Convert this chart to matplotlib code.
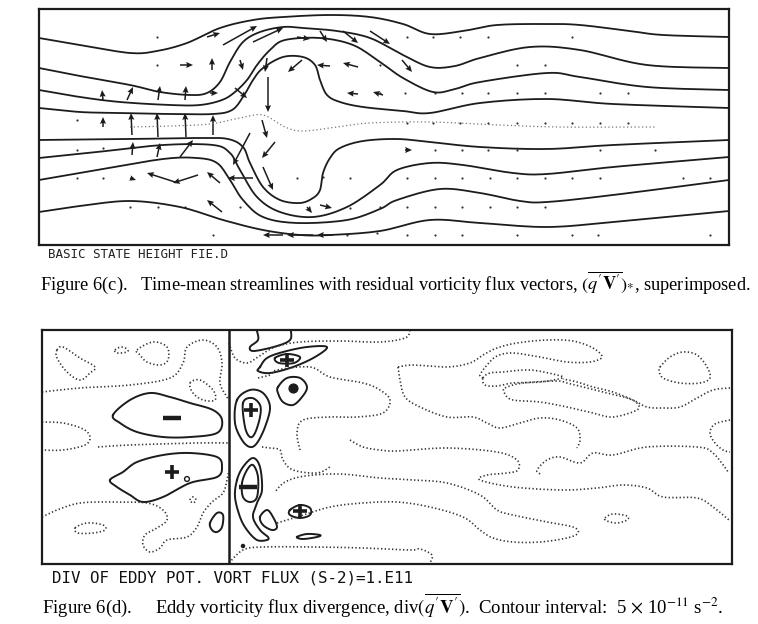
import numpy as np
import matplotlib
matplotlib.use("Agg")
import matplotlib.pyplot as plt

plt.rcParams['mathtext.fontset'] = 'stix'

# ---- panel (c): streamlines, in grid units (x right, y down)
stream_1 = [(39,38),(80,45),(130,53),(157,51),(187,43),(220,28),(253,20),(283,17),(330,15),(370,17),
            (403,24),(430,34),(463,31),(497,25),(547,24),(580,25),(630,31),(663,35),(729,37)]
stream_2 = [(39,68),(80,76),(130,85),(160,92),(190,95),(207,93),(220,82),(230,62),(243,42),(260,32),
            (283,27),(303,28),(337,31),(370,38),(403,55),(430,67),(455,66),(480,58),(530,47),(580,50),
            (647,65),(729,68)]
stream_3 = [(39,90),(80,97),(120,102),(170,105),(200,105),(222,100),(235,92),(247,80),(257,65),(270,50),
            (285,40),(320,38),(353,45),(380,62),(403,78),(433,92),(455,89),(480,82),(547,73),(580,77),
            (647,87),(729,90)]
stream_4 = [(39,108),(80,112),(120,113),(170,114),(213,114),(232,110),(243,97),(253,80),(263,68),(283,57),
            (303,57),(315,65),(320,80),(327,95),(340,102),(363,107),(403,111),(430,113),(480,103),
            (547,99),(613,104),(729,108)]
stream_5 = [(39,140),(130,139),(200,138),(228,139),(243,147),(250,163),(263,187),(280,200),(300,203),
            (313,198),(320,190),(323,173),(330,158),(340,148),(363,141),(397,139),(430,142),(480,147),
            (547,149),(613,145),(729,140)]
stream_6 = [(39,158),(97,152),(163,145),(213,145),(230,153),(240,170),(257,197),(280,212),(313,217),
            (347,207),(380,185),(397,170),(430,163),(463,165),(513,173),(547,174),(613,167),(729,157)]
stream_7 = [(39,180),(97,170),(163,159),(197,158),(217,163),(230,180),(243,200),(263,217),(297,223),
            (347,220),(380,209),(397,200),(440,189),(480,193),(520,201),(547,202),(613,195),(729,180)]
stream_8 = [(39,212),(80,206),(130,201),(180,207),(223,220),(263,230),(300,235),(330,235),(380,231),
            (430,220),(480,223),(547,227),(613,222),(729,211)]
stream_zero = [(130,127),(170,126),(210,124),(240,118),(263,115),(285,127),(303,131),(337,127),
               (370,123),(430,122),(500,125),(560,127),(655,127)]

# flux vectors: tail position and components
vec_x = [207,223,253,297,320,343,370,180,212,240,267,302,330,358,402,103,127,158,185,210,235,268,358,383,
         103,132,158,186,213,262,275,263,250,132,157,180,175,198,220,253,222,307,320,283,313,333,130,405]
vec_y = [37,45,42,37,31,31,31,65,70,60,58,60,66,67,60,100,100,100,100,93,88,77,94,95,
         127,135,137,137,135,120,142,167,133,155,157,157,182,175,183,178,212,207,205,235,235,235,178,150]
vec_u = [13,34,30,13,7,15,20,13,0,3,-2,-14,-13,-15,10,-1,6,2,1,8,12,0,-11,-10,
         0,-1,-1,-1,0,5,-13,10,-17,1,3,13,-28,-25,-13,-25,-15,5,12,-20,-26,-16,6,7]
vec_v = [-4,-19,-14,2,11,12,13,0,-12,10,14,12,-1,-4,12,-10,-13,-14,-14,0,10,35,-1,-3,
         -10,-22,-24,-24,-20,18,16,23,32,-13,-14,-17,-9,8,-11,0,-12,6,3,0,0,0,2,0]

# negligible vectors, shown as dots
dot_x = [157,407,433,460,488,572,157,380,517,545,380,405,435,462,488,517,545,600,628,
         77,407,433,460,488,517,545,572,600,628,77,103,435,462,488,517,600,655,
         77,103,297,323,350,407,435,462,490,517,545,572,600,683,710,
         130,158,185,240,350,380,407,435,462,490,517,545,213,347,377,407,435,462,517,572,598,710]
dot_y = [37,37,37,37,37,37,65,65,65,65,93,93,93,93,93,93,93,93,93,
         120,123,123,123,123,123,123,123,123,123,150,148,150,150,150,150,150,150,
         178,178,178,177,178,178,178,178,178,178,178,178,178,178,178,
         207,207,207,207,208,207,207,207,207,207,207,207,235,235,233,235,235,235,235,235,235,235]

# ---- panel (d): contours of flux divergence (solid: nonzero levels, dotted: zero line)
solid_closed = {
    'minus_west':   [(113,415),(130,400),(150,393),(170,397),(190,403),(213,410),(222,420),(217,433),
                     (190,437),(163,437),(137,432),(120,423)],
    'plus_ne_out':  [(260,367),(267,358),(283,352),(307,347),(327,347),(315,357),(293,367),(270,373),(258,371)],
    'plus_ne_in':   [(275,358),(287,354),(300,357),(294,363),(279,363)],
    'minus_ne':     [(278,387),(287,378),(300,378),(307,387),(302,397),(293,405),(283,402),(278,393)],
    'plus_mid_out': [(237,400),(250,390),(263,393),(270,407),(265,427),(257,443),(250,447),(242,440),(235,423)],
    'plus_mid_in':  [(243,403),(252,398),(260,405),(260,417),(255,433),(250,437),(245,427)],
    'plus_west':    [(110,480),(123,472),(137,462),(163,455),(190,453),(217,457),(222,467),(217,477),
                     (190,483),(163,497),(143,502),(130,495),(117,487)],
    'minus_lo_out': [(237,480),(243,467),(253,458),(260,467),(262,490),(257,503),(253,517),(260,530),
                     (268,537),(267,540),(257,540),(247,530),(240,517),(235,497)],
    'minus_lo_in':  [(242,483),(247,470),(253,465),(258,477),(257,497),(250,502),(243,497)],
    'small_a':      [(260,517),(267,510),(273,517),(277,527),(272,530),(263,525)],
    'small_b':      [(210,523),(217,513),(223,515),(222,527),(217,532),(212,530)],
    'plus_lo':      [(290,510),(300,505),(310,508),(310,515),(300,518),(290,515)],
    'elong':        [(297,537),(307,534),(320,535),(317,537),(303,539)],
}
solid_open = {
    'top_lobe': [(257,331),(258,340),(250,347),(254,351),(277,346),(290,340),(291,331)],
}
zero_closed = {
    'z1':  [(57,350),(63,347),(80,358),(95,367),(90,373),(80,380),(67,372),(57,358)],
    'z2':  [(115,350),(121,347),(127,349),(127,352),(117,353)],
    'z3':  [(137,350),(153,342),(167,347),(168,360),(160,365),(147,362),(140,355)],
    'z5':  [(190,383),(200,380),(213,390),(215,400),(203,400),(193,393)],
    'z10': [(75,528),(87,523),(103,525),(105,530),(93,533),(78,533)],
    'z11': [(190,500),(193,497),(196,500),(193,503)],
    'z16': [(483,378),(490,373),(503,372),(530,370),(557,375),(562,378),(540,382),(513,383),(497,386),(485,385)],
    'z17': [(505,388),(523,383),(557,381),(567,383),(587,388),(607,393),(627,398),(637,403),(637,410),
            (613,417),(593,413),(567,407),(540,402),(513,400),(505,394)],
    'z20': [(660,367),(670,357),(683,352),(697,355),(707,367),(710,378),(700,383),(680,383),(663,378),(659,370)],
    'z26': [(605,518),(613,514),(627,516),(627,520),(617,523),(607,521)],
}
zero_open = {
    'z4':  [(42,392),(80,388),(130,385),(170,378),(183,363),(187,347),(203,340),(217,347),(222,363),
            (220,383),(227,397),(229,400)],
    'z6':  [(42,422),(63,423),(83,429),(90,437),(85,445),(63,450),(42,450)],
    'z7':  [(98,447),(130,445),(197,443),(229,443)],
    'z9':  [(42,517),(57,510),(80,503),(113,502),(147,503),(163,510),(167,520),(157,528),(145,535),
            (143,545),(150,552),(160,548),(167,540),(187,537),(197,527),(203,513),(212,502),(223,493),
            (227,480),(229,470)],
    'z12': [(229,343),(235,358),(247,363),(258,357),(275,347),(300,342),(340,341),(380,342),(405,338),(410,331)],
    'z13': [(258,378),(270,375),(277,370),(310,367),(330,377),(363,383),(380,390),(390,400),(383,413),
            (357,417),(330,417),(303,420),(297,433),(300,450)],
    'z18': [(398,367),(413,365),(447,367),(470,363),(483,355),(497,348),(517,343),(547,340),(573,341),
            (593,348),(602,357),(590,362),(567,362),(540,357),(513,353),(497,356),(487,365),(480,375),(483,378)],
    'z21': [(730,388),(713,390),(697,398),(680,407),(663,408),(647,407),(633,400),(613,392),(593,387),
            (577,382),(563,379)],
    'z22': [(398,367),(400,380),(405,397),(420,407),(447,417),(473,417),(487,423),(500,428),(520,423),
            (540,418),(560,420),(577,428),(580,440),(577,448)],
    'z23': [(350,440),(363,447),(380,450),(397,451),(447,448),(497,452),(517,460),(518,470),(507,473),
            (487,475),(480,480),(513,487),(563,490),(597,488),(623,485),(647,488),(663,497),(697,498),
            (713,507),(729,520)],
    'z24': [(540,474),(537,470),(547,460),(560,457),(580,463),(593,453),(613,455),(647,447),(697,447),
            (713,453),(729,473)],
    'z25': [(277,523),(297,517),(330,507),(363,503),(397,502),(430,507),(463,517),(480,530),(493,538),
            (513,542),(540,542),(567,538),(578,533),(573,527),(547,522),(513,515),(497,510),(480,495),
            (447,483),(413,480),(380,478),(340,474),(305,476),(285,482),(275,492)],
    'z27': [(229,563),(243,550),(263,547),(313,547),(363,548),(410,550),(420,549),(432,555),(430,563)],
    'z30': [(262,447),(270,448),(280,450),(283,460),(293,470),(317,473),(330,467)],
    'z32': [(730,420),(715,424),(710,433),(715,443),(723,450),(730,452)],
}
# sign labels of the extrema
plus_x = [287,251,172,300]
plus_y = [360,410,472,511]
minus_x = [172,248]
minus_y = [418,487]


def smooth(pts, closed=False, n=10):
    # Catmull-Rom curve through the traced points
    p = np.asarray(pts, float)
    if closed:
        p = np.vstack([p[-1], p, p[0], p[1]])
    else:
        p = np.vstack([p[0], p, p[-1]])
    t = np.linspace(0, 1, n, endpoint=False)[:, None]
    out = []
    for i in range(1, len(p) - 2):
        p0, p1, p2, p3 = p[i-1], p[i], p[i+1], p[i+2]
        out.append(0.5 * (2*p1 + (p2 - p0)*t + (2*p0 - 5*p1 + 4*p2 - p3)*t**2
                          + (3*p1 - p0 - 3*p2 + p3)*t**3))
    out.append(p[-2][None])
    c = np.vstack(out)
    return c[:, 0], c[:, 1]


ink = '#1c1c1c'
fig = plt.figure(figsize=(7.58, 6.24), dpi=100)

# panel (c)
ax1 = fig.add_axes([39/758, 1-245/624, 690/758, 236/624])
ax1.set_xlim(39, 729)
ax1.set_ylim(245, 9)
for s in [stream_1, stream_2, stream_3, stream_4, stream_5, stream_6, stream_7, stream_8]:
    x, y = smooth(s)
    ax1.plot(x, y, color=ink, lw=1.3)
x, y = smooth(stream_zero)
ax1.plot(x, y, color='#777777', lw=0.9, ls=(0, (1, 2)))
ax1.quiver(vec_x, vec_y, vec_u, vec_v, angles='xy', scale_units='xy', scale=1,
           color=ink, width=0.0022, headwidth=4, headlength=4.5, headaxislength=4)
ax1.scatter(dot_x, dot_y, s=2.5, color='#333333', lw=0)

# panel (d)
ax2 = fig.add_axes([42/758, 1-564/624, 690/758, 234/624])
ax2.set_xlim(42, 732)
ax2.set_ylim(564, 330)
for c in solid_closed.values():
    x, y = smooth(c, closed=True)
    ax2.plot(x, y, color=ink, lw=1.4)
for c in solid_open.values():
    x, y = smooth(c)
    ax2.plot(x, y, color=ink, lw=1.4)
for c in zero_closed.values():
    x, y = smooth(c, closed=True)
    ax2.plot(x, y, color='#333333', lw=1.2, ls=(0, (0.8, 1.4)))
for c in zero_open.values():
    x, y = smooth(c)
    ax2.plot(x, y, color='#333333', lw=1.2, ls=(0, (0.8, 1.4)))
ax2.axvline(229, color=ink, lw=1.8)
ax2.scatter(plus_x, plus_y, marker='+', s=110, lw=2.6, color=ink, zorder=3)
ax2.scatter(minus_x, minus_y, marker='_', s=150, lw=3.2, color=ink, zorder=3)
ax2.scatter([187, 243], [479, 546], s=[12, 5], facecolor=['white', ink], edgecolor=ink, lw=1, zorder=3)
ax2.scatter([293], [388], s=40, color=ink, marker='o', zorder=3)

for ax in (ax1, ax2):
    ax.set_xticks([])
    ax.set_yticks([])
    for sp in ax.spines.values():
        sp.set_linewidth(1.6)
        sp.set_color(ink)

fig.text(48/758, 1-255/624, 'BASIC STATE HEIGHT FIE.D', family='DejaVu Sans Mono',
         fontsize=9, va='center', color='#222222')
fig.text(40/758, 1-283/624,
         r"Figure 6(c).   Time-mean streamlines with residual vorticity flux vectors, $(\overline{q^{\prime}\mathbf{V}^{\prime}})_{*}$, superimposed.",
         family='Liberation Serif', fontsize=13.2, va='center')
fig.text(52/758, 1-578/624, 'DIV OF EDDY POT. VORT FLUX (S-2)=1.E11', family='DejaVu Sans Mono',
         fontsize=11.4, va='center', color='#111111')
fig.text(42/758, 1-606/624,
         r"Figure 6(d).     Eddy vorticity flux divergence, div$(\overline{q^{\prime}\mathbf{V}^{\prime}})$.  Contour interval:  5 $\times$ 10$^{-11}$ s$^{-2}$.",
         family='Liberation Serif', fontsize=13.5, va='center')

fig.savefig('out.png', dpi=100)
